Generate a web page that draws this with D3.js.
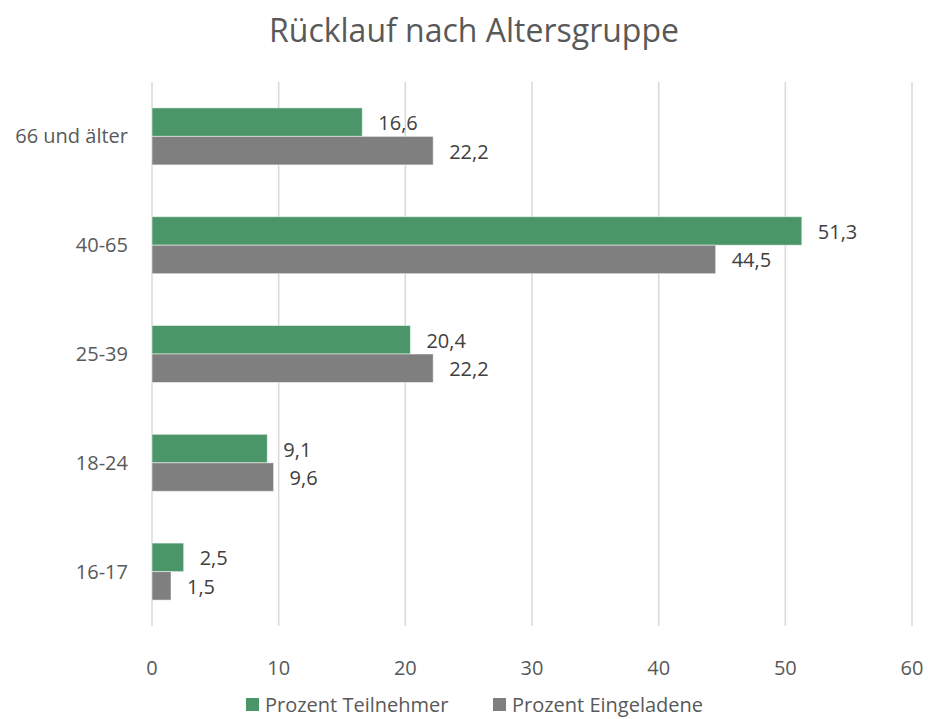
<!DOCTYPE html>
<html>
<head>
<meta charset="utf-8">
<script src="https://cdn.jsdelivr.net/npm/d3@7"></script>
<style>
  body { margin: 0; background: #fff; }
  text { font-family: "Open Sans", sans-serif; fill: #595959; }
</style>
</head>
<body>
<div id="chart"></div>
<script>
var categories = ["66 und älter", "40-65", "25-39", "18-24", "16-17"];
var seriesNames = ["Prozent Teilnehmer", "Prozent Eingeladene"];
var teilnehmer = [16.6, 51.3, 20.4, 9.1, 2.5];
var eingeladene = [22.2, 44.5, 22.2, 9.6, 1.5];
var xTicks = [0, 10, 20, 30, 40, 50, 60];
var colors = ["#4a9668", "#7f7f7f"];

var width = 928,
  height = 719;

var margin = { top: 82, right: 16, bottom: 93, left: 152 };

var svg = d3.select("#chart")
  .append("svg")
  .attr("width", width)
  .attr("height", height);

// title
svg.append("text")
  .attr("x", 474)
  .attr("y", 42)
  .attr("text-anchor", "middle")
  .style("font-size", "32px")
  .text("Rücklauf nach Altersgruppe");

var x = d3.scaleLinear()
  .domain([0, 60])
  .range([margin.left, width - margin.right]);

var y = d3.scaleBand()
  .domain(categories)
  .range([margin.top, height - margin.bottom])
  .paddingInner(0.476)
  .paddingOuter(0.238);

var ySub = d3.scaleBand()
  .domain(seriesNames)
  .range([0, y.bandwidth()]);

// gridlines
svg.append("g")
  .selectAll("line")
  .data(xTicks)
  .enter().append("line")
  .attr("x1", function (d) { return x(d); })
  .attr("x2", function (d) { return x(d); })
  .attr("y1", margin.top)
  .attr("y2", height - margin.bottom)
  .attr("stroke", "#d9d9d9")
  .attr("stroke-width", 1.5);

// x tick labels
svg.append("g")
  .selectAll("text")
  .data(xTicks)
  .enter().append("text")
  .attr("x", function (d) { return x(d); })
  .attr("y", 675)
  .attr("text-anchor", "middle")
  .style("font-size", "20px")
  .text(function (d) { return d; });

// category labels
svg.append("g")
  .selectAll("text")
  .data(categories)
  .enter().append("text")
  .attr("x", 128)
  .attr("y", function (d) { return y(d) + y.bandwidth() / 2; })
  .attr("dy", "0.35em")
  .attr("text-anchor", "end")
  .style("font-size", "20px")
  .text(function (d) { return d; });

var rows = categories.map(function (c, i) {
  return [
    { cat: c, series: seriesNames[0], value: teilnehmer[i], color: colors[0] },
    { cat: c, series: seriesNames[1], value: eingeladene[i], color: colors[1] }
  ];
});
var flat = d3.merge(rows);

var fmt = function (v) { return d3.format(".1f")(v).replace(".", ","); };

// bars
svg.append("g")
  .selectAll("rect")
  .data(flat)
  .enter().append("rect")
  .attr("x", x(0))
  .attr("y", function (d) { return y(d.cat) + ySub(d.series); })
  .attr("width", function (d) { return x(d.value) - x(0); })
  .attr("height", ySub.bandwidth())
  .attr("fill", function (d) { return d.color; })
  .attr("stroke", "#ffffff")
  .attr("stroke-opacity", 0.5)
  .attr("stroke-width", 1);

// value labels
svg.append("g")
  .selectAll("text")
  .data(flat)
  .enter().append("text")
  .attr("x", function (d) { return x(d.value) + 16; })
  .attr("y", function (d) { return y(d.cat) + ySub(d.series) + ySub.bandwidth() / 2 + 1; })
  .attr("dy", "0.35em")
  .style("font-size", "20px")
  .style("fill", "#404040")
  .text(function (d) { return fmt(d.value); });

// legend
var legendX = [246, 493];
var legend = svg.append("g")
  .selectAll("g")
  .data(seriesNames)
  .enter().append("g")
  .attr("transform", function (d, i) { return "translate(" + legendX[i] + ",698)"; });

legend.append("rect")
  .attr("width", 13)
  .attr("height", 13)
  .attr("fill", function (d, i) { return colors[i]; });

legend.append("text")
  .attr("x", 19)
  .attr("y", 7)
  .attr("dy", "0.35em")
  .style("font-size", "20px")
  .text(function (d) { return d; });
</script>
</body>
</html>
